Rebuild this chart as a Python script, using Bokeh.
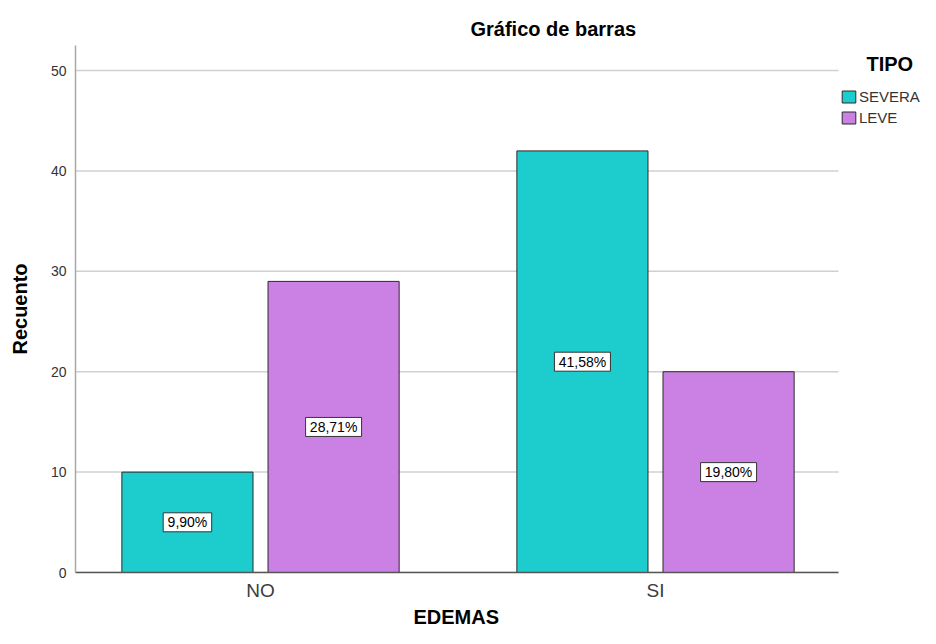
from bokeh.plotting import figure
from bokeh.models import (ColumnDataSource, Label, Legend, LegendItem,
                          FixedTicker, Range1d, Title)
from bokeh.core.properties import value
from bokeh.embed import file_html
from bokeh.resources import INLINE

categories = ["NO", "SI"]
tipos = ["SEVERA", "LEVE"]
severa = [10, 42]
leve = [29, 20]
severa_pct = ["9,90%", "41,58%"]
leve_pct = ["28,71%", "19,80%"]
colors = ["#1DCDCD", "#CB80E4"]
y_ticks = [0, 10, 20, 30, 40, 50]

FONT = "Liberation Sans"

X0, X_AXIS_END, X1 = -0.4684, 1.4633, 1.6709

p = figure(width=920, height=628, output_backend="svg", toolbar_location=None,
           x_range=Range1d(X0, X1), y_range=Range1d(0, 52.5),
           min_border_left=75, min_border_right=0, min_border_top=45,
           min_border_bottom=56)
p.outline_line_color = None
p.background_fill_color = "white"

pos = list(range(len(categories)))
offset = 0.185
bw = 0.332

# horizontal grid lines limited to the plotting area
p.segment(x0=[X0] * len(y_ticks), x1=[X_AXIS_END] * len(y_ticks),
          y0=y_ticks, y1=y_ticks, line_color="#d0d0d0", line_width=1.5)

def make_src(xs, vals, labs):
    return ColumnDataSource(dict(
        x=xs, top=vals, mid=[v / 2 for v in vals], lab=labs,
        bw=[7.5 * len(s) + 11 for s in labs]))

src_s = make_src([i - offset for i in pos], severa, severa_pct)
src_l = make_src([i + offset for i in pos], leve, leve_pct)

r1 = p.vbar(x="x", top="top", width=bw, source=src_s, fill_color=colors[0],
            line_color="#2b2b2b", line_width=1)
r2 = p.vbar(x="x", top="top", width=bw, source=src_l, fill_color=colors[1],
            line_color="#2b2b2b", line_width=1)

for src in (src_s, src_l):
    p.rect(x="x", y="mid", width="bw", height=19, width_units="screen",
           height_units="screen", source=src, fill_color="white",
           line_color="#333333", line_width=1)
    p.text(x="x", y="mid", text="lab", source=src, text_align="center",
           text_baseline="middle", text_font_size="14px",
           text_font=value(FONT), text_color="black")

# axes
p.xgrid.visible = False
p.ygrid.visible = False
p.yaxis.ticker = FixedTicker(ticks=y_ticks)
p.xaxis.ticker = FixedTicker(ticks=pos)
p.xaxis.major_label_overrides = {i: c for i, c in zip(pos, categories)}
p.xaxis.bounds = (X0, X_AXIS_END)

for ax in (p.xaxis[0], p.yaxis[0]):
    ax.major_tick_line_color = None
    ax.minor_tick_line_color = None
    ax.major_tick_out = 0
    ax.major_tick_in = 0
    ax.axis_label_text_font = FONT
    ax.axis_label_text_font_style = "bold"
    ax.axis_label_text_font_size = "20px"
    ax.axis_label_text_color = "black"
    ax.major_label_text_font = FONT

p.yaxis.axis_line_color = "#a8a8a8"
p.yaxis.axis_line_width = 1.5
p.yaxis.major_label_text_font_size = "14px"
p.yaxis.major_label_text_color = "#333333"
p.yaxis.major_label_standoff = 9
p.yaxis.axis_label = "Recuento"
p.yaxis.axis_label_standoff = 17

p.xaxis.axis_line_color = "#555555"
p.xaxis.axis_line_width = 1.5
p.xaxis.major_label_text_font_size = "19px"
p.xaxis.major_label_text_color = "#3c3c3c"
p.xaxis.major_label_standoff = 7

# x axis title, centred under the bar area
p.add_layout(Title(text="EDEMAS", align="left", offset=338, standoff=0,
                   text_font=FONT, text_font_style="bold",
                   text_font_size="20px", text_color="black"), "below")

# title
p.title.text = "Gráfico de barras"
p.title.align = "left"
p.title.offset = 395
p.title.standoff = 11
p.title.text_font = FONT
p.title.text_font_style = "bold"
p.title.text_font_size = "20px"
p.title.text_color = "black"

# legend
p.add_layout(Label(x=791, y=509, x_units="screen", y_units="screen",
                   text="TIPO", text_align="left", text_baseline="middle",
                   text_font=FONT, text_font_style="bold",
                   text_font_size="20px", text_color="black"))
legend = Legend(items=[LegendItem(label=tipos[0], renderers=[r1]),
                       LegendItem(label=tipos[1], renderers=[r2])],
                location=(765, 446), padding=0, margin=0, spacing=4,
                glyph_width=17, glyph_height=15, label_height=15,
                label_standoff=2, label_text_font=FONT,
                label_text_font_size="15px", label_text_color="#333333",
                border_line_color=None, background_fill_alpha=0)
p.add_layout(legend, "center")

open("out.html", "w").write(file_html(p, INLINE))
